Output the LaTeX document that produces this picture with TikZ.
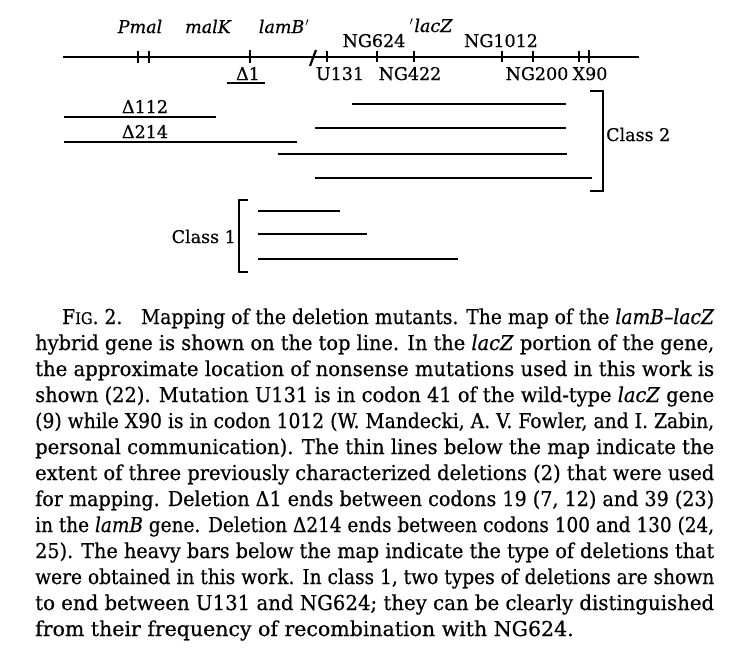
\documentclass[tikz,border=0pt]{standalone}
\usepackage{fontspec}
\usepackage{graphicx}
\setmainfont{DejaVu Serif}[FakeBold=0.5]
\newsavebox{\capbox}
\newcommand{\capfit}[2]{%
  \sbox{\capbox}{#2}%
  \ifdim\wd\capbox>#1\relax
    \resizebox{#1}{\height}{#2}%
  \else
    \makebox[#1][s]{#2}%
  \fi}
\begin{document}
\begin{tikzpicture}[x=1pt,y=-1pt,
  mapline/.style={line width=2.2pt},
  heavy/.style={line width=2.3pt},
  thinl/.style={line width=1.2pt},
  tickmark/.style={line width=1.1pt},
  boldtick/.style={line width=2.8pt},
  brack/.style={line width=1.2pt},
  lab/.style={font=\fontsize{17.5}{20}\selectfont, anchor=base, inner sep=0pt},
  ilab/.style={font=\fontsize{17.5}{20}\selectfont\itshape, anchor=base, inner sep=0pt},
  capline/.style={font=\fontsize{20.5}{24}\selectfont, anchor=base west, inner sep=0pt}]
\useasboundingbox (0,0) rectangle (752,662);

% map line
\coordinate (mapL) at (63,57);
\coordinate (mapR) at (639,57);
\draw[mapline] (mapL) -- (mapR);
% bold ticks
\draw[boldtick] (138,51) -- (138,63);
\draw[boldtick] (149,51) -- (149,63);
\draw[line width=2pt] (250,50) -- (250,63);
\draw[boldtick] (589,50) -- (589,63);
% break mark
\draw[line width=2.2pt] (310,66) -- (316,50);
% thin ticks
\foreach \xx in {327,377,414,502,533,579}
  \draw[tickmark] (\xx,51) -- (\xx,62);

% labels above
\node[ilab] (pmal) at (140,33) {Pmal};
\node[ilab] (malk) at (208,33) {malK};
\node[ilab] (lamb) at (284,33) {lamB\kern1pt$'$};
\node[lab] (ng624) at (374,47) {NG624};
\node[ilab] (lacz) at (431,32) {$'$\kern1pt lacZ};
\node[lab] (ng1012) at (501,47) {NG1012};
% labels below
\node[lab] (d1) at (248,80) {Δ1};
\draw[thinl] (227,83) -- (265,83);
\node[lab] (u131) at (340,80) {U131};
\node[lab] (ng422) at (410,80) {NG422};
\node[lab] (ng200) at (537,80) {NG200};
\node[lab] (x90) at (590,80) {X90};

% thin lines (previous deletions)
\node[lab] (d112) at (145,113) {Δ112};
\draw[thinl] (64,117) -- (216,117);
\node[lab] (d214) at (145,138) {Δ214};
\draw[thinl] (64,142) -- (297,142);

% class 2 heavy bars
\draw[heavy] (352,104) -- (566,104);
\draw[heavy] (315,128) -- (566,128);
\draw[heavy] (278,154) -- (567,154);
\draw[heavy] (315,178) -- (592,178);
\draw[brack] (590,91) -- (603,91) -- (603,191) -- (590,191);
\node[lab, anchor=base west] (c2) at (606,141) {Class 2};

% class 1 heavy bars
\draw[heavy] (258,211) -- (340,211);
\draw[heavy] (258,234) -- (367,234);
\draw[heavy] (258,259) -- (458,259);
\draw[brack] (248,200) -- (239,200) -- (239,272) -- (248,272);
\node[lab, anchor=base east] (c1) at (236,243) {Class 1};

% caption
\node[capline] (cap1) at (62,324) {\capfit{652pt}{F{\fontsize{16}{18}\selectfont IG}. 2.\quad Mapping of the deletion mutants. The map of the \textit{lamB--lacZ}}};
\node[capline] (cap2) at (35,350) {\capfit{679pt}{hybrid gene is shown on the top line. In the \textit{lacZ} portion of the gene,}};
\node[capline] (cap3) at (35,376) {\capfit{679pt}{the approximate location of nonsense mutations used in this work is}};
\node[capline] (cap4) at (35,402) {\capfit{679pt}{shown (22). Mutation U131 is in codon 41 of the wild-type \textit{lacZ} gene}};
\node[capline] (cap5) at (35,428) {\capfit{679pt}{(9) while X90 is in codon 1012 (W. Mandecki, A. V. Fowler, and I. Zabin,}};
\node[capline] (cap6) at (35,454) {\capfit{679pt}{personal communication). The thin lines below the map indicate the}};
\node[capline] (cap7) at (35,480) {\capfit{679pt}{extent of three previously characterized deletions (2) that were used}};
\node[capline] (cap8) at (35,506) {\capfit{679pt}{for mapping. Deletion Δ1 ends between codons 19 (7, 12) and 39 (23)}};
\node[capline] (cap9) at (35,532) {\capfit{679pt}{in the \textit{lamB} gene. Deletion Δ214 ends between codons 100 and 130 (24,}};
\node[capline] (cap10) at (35,558) {\capfit{679pt}{25). The heavy bars below the map indicate the type of deletions that}};
\node[capline] (cap11) at (35,584) {\capfit{679pt}{were obtained in this work. In class 1, two types of deletions are shown}};
\node[capline] (cap12) at (35,610) {\capfit{679pt}{to end between U131 and NG624; they can be clearly distinguished}};
\node[capline] (cap13) at (35,636) {from their frequency of recombination with NG624.};
\end{tikzpicture}
\end{document}
